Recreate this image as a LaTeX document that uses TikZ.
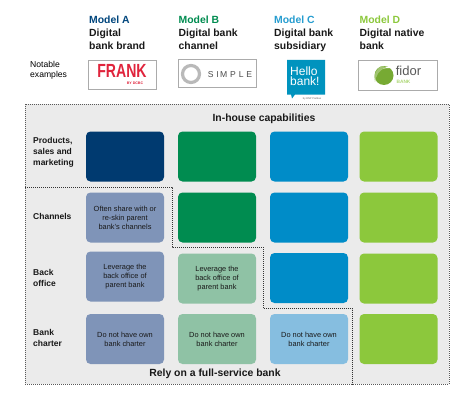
\documentclass[tikz,border=0pt]{standalone}
\usepackage{fontspec}
\setmainfont{Liberation Sans}
\definecolor{ca}{HTML}{003A70}
\definecolor{cb}{HTML}{008C50}
\definecolor{cc}{HTML}{008CC8}
\definecolor{cd}{HTML}{8CC83C}
\definecolor{la}{HTML}{7F94B8}
\definecolor{lb}{HTML}{8FC2A5}
\definecolor{lc}{HTML}{86BEE0}
\definecolor{panel}{HTML}{EBEBEB}
\definecolor{logoedge}{HTML}{ABABAB}
\definecolor{frankred}{HTML}{E0243C}
\tikzset{
  cell/.style={rounded corners=4.5pt,minimum width=78pt,minimum height=50pt,inner sep=1pt,align=center,font=\fontsize{7.4}{9}\selectfont,text=black!90},
  head/.style={anchor=north west,inner sep=0pt,align=left,font=\fontsize{10.4}{13}\selectfont\bfseries,text=black!90},
  rowlab/.style={anchor=west,inner sep=0pt,align=left,font=\fontsize{8.5}{11}\selectfont\bfseries,text=black!90},
  logobox/.style={draw=logoedge,line width=0.9pt,fill=white,inner sep=0pt},
  dots/.style={line width=0.8pt,dash pattern=on 1pt off 1pt,draw=black!65}
}
\begin{document}
\begin{tikzpicture}[x=1pt,y=-1pt]
\useasboundingbox (0,0) rectangle (474,404);
\fill[white] (0,0) rectangle (474,404);
% headers
\node[head] (ha) at (89,15.5) {\textcolor{ca!85!cc}{Model A}\\Digital\\bank brand};
\node[head] (hb) at (178.5,15.5) {\textcolor{cb}{Model B}\\Digital bank\\channel};
\node[head] (hc) at (274,15.5) {\textcolor{cc!85!white}{Model C}\\Digital bank\\subsidiary};
\node[head] (hd) at (359.5,15.5) {\textcolor{cd}{Model D}\\Digital native\\bank};
\node[anchor=west,inner sep=0pt,align=left,font=\fontsize{8.6}{10}\selectfont] (ne) at (30,70) {Notable\\examples};
% logos
\node[logobox,minimum width=68pt,minimum height=29pt] (la1) at (122.5,74.5) {};
\node[inner sep=0pt,xscale=0.74,font=\fontsize{19}{19}\selectfont\bfseries,text=frankred] (fr) at (122,70.5) {FRANK};
\node[inner sep=0pt,font=\fontsize{3.6}{4}\selectfont\bfseries,text=frankred] (fr2) at (135,83) {BY DCBC};
\node[logobox,minimum width=78pt,minimum height=28pt] (lb1) at (217,73.5) {};
\node[circle,draw=gray!55,line width=3.2pt,minimum size=17pt,inner sep=0pt] (sc) at (191,74) {};
\node[inner sep=0pt,font=\fontsize{8.6}{10}\selectfont,text=black!70] (st) at (230,74.5) {S\,\,I\,M\,\,P\,\,L\,\,E};
\fill[cc!80!cyan!90!black] (287,60) -- (325,60) -- (325,94.5) -- (295,94.5) -- (292,98.5) -- (291,94.5) -- (287,94.5) -- cycle;
\node[anchor=north west,inner sep=0pt,align=left,text=white,font=\fontsize{12}{10.5}\selectfont] (hl) at (290,66.5) {Hello\\bank!};
\node[inner sep=0pt,font=\fontsize{2.6}{3}\selectfont,text=black!60] (hp) at (312,99) {by BNP Paribas};
\node[logobox,minimum width=79pt,minimum height=30pt] (ld1) at (397.5,75) {};
\fill[cd!85!black] (384,75.5) circle (9.5pt);
\draw[white,line width=1.1pt] (375,81) .. controls (375,70) and (382,66) .. (393,68);
\fill[cd!85!black!70!white] (383,66) .. controls (376,67) and (373,76) .. (375,82) .. controls (376,75) and (379,70) .. (386,67.5) -- cycle;
\node[inner sep=0pt,font=\fontsize{13}{13}\selectfont,text=black!65] (fi) at (408.5,71) {fidor};
\node[inner sep=0pt,font=\fontsize{4.8}{5}\selectfont\bfseries,text=cd!70!white] (fb) at (403.5,81.5) {BANK};
% panel
\fill[panel] (25,104) rectangle (449,384);
\draw[dots] (25,104) rectangle (449,384);
\coordinate (p0) at (25,187);
\coordinate (p1) at (172,187);
\coordinate (p2) at (172,247);
\coordinate (p3) at (263,247);
\coordinate (p4) at (263,308.5);
\coordinate (p5) at (352.5,308.5);
\coordinate (p6) at (352.5,384);
\draw[dots,draw=black!80] (p0) -- (p1) -- (p2) -- (p3) -- (p4) -- (p5) -- (p6);
\node[inner sep=0pt,font=\fontsize{10.4}{11}\selectfont\bfseries,text=black!90] (ih) at (264,118.5) {In-house capabilities};
\node[inner sep=0pt,font=\fontsize{10.4}{11}\selectfont\bfseries,text=black!90] (rf) at (215,374) {Rely on a full-service bank};
% row labels
\node[rowlab] (r1) at (33,152) {Products,\\sales and\\marketing};
\node[rowlab] (r2) at (33,216) {Channels};
\node[rowlab] (r3) at (33,278) {Back\\office};
\node[rowlab] (r4) at (33,338) {Bank\\charter};
% cells
\node[cell,fill=ca] (a1) at (125,156.5) {};
\node[cell,fill=cb] (b1) at (217,156.5) {};
\node[cell,fill=cc] (c1) at (309,156.5) {};
\node[cell,fill=cd] (d1) at (398.5,156.5) {};
\node[cell,fill=la] (a2) at (125,217.5) {Often share with or\\re-skin parent\\bank’s channels};
\node[cell,fill=cb] (b2) at (217,217.5) {};
\node[cell,fill=cc] (c2) at (309,217.5) {};
\node[cell,fill=cd] (d2) at (398.5,217.5) {};
\node[cell,fill=la] (a3) at (125,276.5) {Leverage the\\back office of\\parent bank};
\node[cell,fill=lb] (b3) at (217,278.5) {Leverage the\\back office of\\parent bank};
\node[cell,fill=cc] (c3) at (309,278) {};
\node[cell,fill=cd] (d3) at (398.5,278.5) {};
\node[cell,fill=la] (a4) at (125,339) {Do not have own\\bank charter};
\node[cell,fill=lb] (b4) at (217,339) {Do not have own\\bank charter};
\node[cell,fill=lc] (c4) at (309,339) {Do not have own\\bank charter};
\node[cell,fill=cd] (d4) at (398.5,339) {};
\end{tikzpicture}
\end{document}
